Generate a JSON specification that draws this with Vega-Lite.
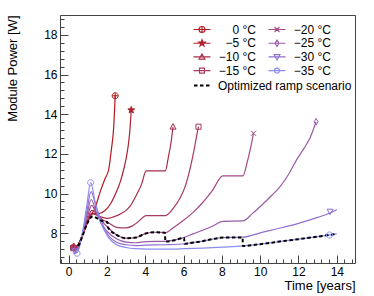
{
"$schema": "https://vega.github.io/schema/vega-lite/v6.json",
"width": 295, "height": 248,
"autosize": "none",
"padding": {"left": 60, "top": 15, "right": 19, "bottom": 33},
"background": "white",
"config": {
  "view": {"stroke": "#444", "strokeWidth": 1},
  "font": "Liberation Sans",
  "axis": {"labelFont": "Liberation Sans", "titleFont": "Liberation Sans", "labelColor": "black", "titleColor": "black", "tickColor": "#444", "domain": false, "grid": false, "titleFontWeight": "normal", "labelFontSize": 12, "titleFontSize": 13},
  "legend": {"labelFont": "Liberation Sans", "labelFontSize": 12, "labelColor": "black"}
},
"datasets": {
  "curves": [
    {"s":"0 °C","t":0.25,"p":7.3},{"s":"0 °C","t":0.45,"p":7.38},{"s":"0 °C","t":0.7,"p":7.85},{"s":"0 °C","t":0.95,"p":8.45},{"s":"0 °C","t":1.15,"p":8.9},{"s":"0 °C","t":1.35,"p":9.2},{"s":"0 °C","t":1.65,"p":10.1},{"s":"0 °C","t":1.9,"p":10.75},{"s":"0 °C","t":2.09,"p":11.2},{"s":"0 °C","t":2.23,"p":12.2},{"s":"0 °C","t":2.35,"p":13.3},{"s":"0 °C","t":2.43,"p":14.93},
    {"s":"−5 °C","t":0.25,"p":7.3},{"s":"−5 °C","t":0.45,"p":7.38},{"s":"−5 °C","t":0.7,"p":7.85},{"s":"−5 °C","t":0.95,"p":8.45},{"s":"−5 °C","t":1.15,"p":8.9},{"s":"−5 °C","t":1.35,"p":9.0},{"s":"−5 °C","t":1.6,"p":9.0},{"s":"−5 °C","t":1.9,"p":9.15},{"s":"−5 °C","t":2.2,"p":9.5},{"s":"−5 °C","t":2.5,"p":10.1},{"s":"−5 °C","t":2.7,"p":10.6},{"s":"−5 °C","t":2.87,"p":11.2},{"s":"−5 °C","t":3.08,"p":12.2},{"s":"−5 °C","t":3.2,"p":13.2},{"s":"−5 °C","t":3.27,"p":14.21},
    {"s":"−10 °C","t":0.25,"p":7.28},{"s":"−10 °C","t":0.45,"p":7.35},{"s":"−10 °C","t":0.7,"p":7.85},{"s":"−10 °C","t":0.95,"p":8.5},{"s":"−10 °C","t":1.2,"p":9.0},{"s":"−10 °C","t":1.45,"p":8.92},{"s":"−10 °C","t":1.75,"p":8.8},{"s":"−10 °C","t":2.0,"p":8.75},{"s":"−10 °C","t":2.5,"p":8.88},{"s":"−10 °C","t":3.0,"p":9.15},{"s":"−10 °C","t":3.22,"p":9.38},{"s":"−10 °C","t":3.5,"p":9.85},{"s":"−10 °C","t":3.8,"p":10.45},{"s":"−10 °C","t":4.05,"p":11.14},{"s":"−10 °C","t":5.05,"p":11.14},{"s":"−10 °C","t":5.2,"p":11.8},{"s":"−10 °C","t":5.35,"p":12.6},{"s":"−10 °C","t":5.45,"p":13.37},
    {"s":"−15 °C","t":0.25,"p":7.25},{"s":"−15 °C","t":0.45,"p":7.3},{"s":"−15 °C","t":0.7,"p":7.85},{"s":"−15 °C","t":0.95,"p":8.55},{"s":"−15 °C","t":1.2,"p":9.15},{"s":"−15 °C","t":1.45,"p":9.0},{"s":"−15 °C","t":1.75,"p":8.7},{"s":"−15 °C","t":2.04,"p":8.55},{"s":"−15 °C","t":2.5,"p":8.3},{"s":"−15 °C","t":3.0,"p":8.27},{"s":"−15 °C","t":3.3,"p":8.36},{"s":"−15 °C","t":3.6,"p":8.55},{"s":"−15 °C","t":4.05,"p":8.89},{"s":"−15 °C","t":5.05,"p":8.89},{"s":"−15 °C","t":5.5,"p":9.3},{"s":"−15 °C","t":5.83,"p":9.8},{"s":"−15 °C","t":6.1,"p":10.4},{"s":"−15 °C","t":6.35,"p":11.3},{"s":"−15 °C","t":6.55,"p":12.2},{"s":"−15 °C","t":6.7,"p":13.0},{"s":"−15 °C","t":6.78,"p":13.37},
    {"s":"−20 °C","t":0.25,"p":7.22},{"s":"−20 °C","t":0.45,"p":7.25},{"s":"−20 °C","t":0.7,"p":7.85},{"s":"−20 °C","t":0.95,"p":8.7},{"s":"−20 °C","t":1.2,"p":9.4},{"s":"−20 °C","t":1.45,"p":9.0},{"s":"−20 °C","t":1.75,"p":8.6},{"s":"−20 °C","t":2.04,"p":8.3},{"s":"−20 °C","t":2.5,"p":7.92},{"s":"−20 °C","t":3.0,"p":7.75},{"s":"−20 °C","t":3.5,"p":7.78},{"s":"−20 °C","t":4.0,"p":7.98},{"s":"−20 °C","t":4.5,"p":8.05},{"s":"−20 °C","t":5.05,"p":8.03},{"s":"−20 °C","t":5.5,"p":8.3},{"s":"−20 °C","t":6.0,"p":8.65},{"s":"−20 °C","t":6.5,"p":9.05},{"s":"−20 °C","t":7.0,"p":9.55},{"s":"−20 °C","t":7.5,"p":10.15},{"s":"−20 °C","t":8.05,"p":10.89},{"s":"−20 °C","t":9.1,"p":10.89},{"s":"−20 °C","t":9.3,"p":11.5},{"s":"−20 °C","t":9.5,"p":12.3},{"s":"−20 °C","t":9.65,"p":13.04},
    {"s":"−25 °C","t":0.25,"p":7.15},{"s":"−25 °C","t":0.45,"p":7.2},{"s":"−25 °C","t":0.7,"p":7.9},{"s":"−25 °C","t":0.95,"p":8.9},{"s":"−25 °C","t":1.18,"p":9.7},{"s":"−25 °C","t":1.45,"p":9.05},{"s":"−25 °C","t":1.75,"p":8.4},{"s":"−25 °C","t":2.0,"p":8.1},{"s":"−25 °C","t":2.5,"p":7.72},{"s":"−25 °C","t":3.0,"p":7.55},{"s":"−25 °C","t":3.5,"p":7.52},{"s":"−25 °C","t":4.05,"p":7.58},{"s":"−25 °C","t":5.05,"p":7.59},{"s":"−25 °C","t":5.5,"p":7.65},{"s":"−25 °C","t":6.0,"p":7.78},{"s":"−25 °C","t":6.5,"p":7.97},{"s":"−25 °C","t":7.0,"p":8.15},{"s":"−25 °C","t":7.5,"p":8.35},{"s":"−25 °C","t":8.05,"p":8.6},{"s":"−25 °C","t":9.1,"p":8.62},{"s":"−25 °C","t":9.6,"p":9.0},{"s":"−25 °C","t":10.17,"p":9.5},{"s":"−25 °C","t":10.6,"p":9.9},{"s":"−25 °C","t":11.04,"p":10.35},{"s":"−25 °C","t":11.5,"p":11.0},{"s":"−25 °C","t":11.9,"p":11.7},{"s":"−25 °C","t":12.3,"p":12.3},{"s":"−25 °C","t":12.6,"p":12.8},{"s":"−25 °C","t":12.92,"p":13.62},
    {"s":"−30 °C","t":0.25,"p":7.1},{"s":"−30 °C","t":0.45,"p":7.12},{"s":"−30 °C","t":0.7,"p":7.9},{"s":"−30 °C","t":0.95,"p":9.1},{"s":"−30 °C","t":1.17,"p":10.1},{"s":"−30 °C","t":1.45,"p":9.3},{"s":"−30 °C","t":1.75,"p":8.5},{"s":"−30 °C","t":2.0,"p":8.0},{"s":"−30 °C","t":2.5,"p":7.55},{"s":"−30 °C","t":3.0,"p":7.42},{"s":"−30 °C","t":3.5,"p":7.38},{"s":"−30 °C","t":4.05,"p":7.4},{"s":"−30 °C","t":5.05,"p":7.42},{"s":"−30 °C","t":6.05,"p":7.47},{"s":"−30 °C","t":6.5,"p":7.53},{"s":"−30 °C","t":7.0,"p":7.6},{"s":"−30 °C","t":7.5,"p":7.7},{"s":"−30 °C","t":8.05,"p":7.78},{"s":"−30 °C","t":9.1,"p":7.8},{"s":"−30 °C","t":10.0,"p":8.02},{"s":"−30 °C","t":11.0,"p":8.25},{"s":"−30 °C","t":12.0,"p":8.5},{"s":"−30 °C","t":13.0,"p":8.8},{"s":"−30 °C","t":13.65,"p":9.02},{"s":"−30 °C","t":14.0,"p":9.2},
    {"s":"−35 °C","t":0.25,"p":7.0},{"s":"−35 °C","t":0.45,"p":7.02},{"s":"−35 °C","t":0.7,"p":7.9},{"s":"−35 °C","t":0.95,"p":9.4},{"s":"−35 °C","t":1.15,"p":10.55},{"s":"−35 °C","t":1.4,"p":9.5},{"s":"−35 °C","t":1.7,"p":8.5},{"s":"−35 °C","t":2.0,"p":7.9},{"s":"−35 °C","t":2.5,"p":7.42},{"s":"−35 °C","t":3.0,"p":7.28},{"s":"−35 °C","t":3.5,"p":7.22},{"s":"−35 °C","t":4.05,"p":7.2},{"s":"−35 °C","t":5.05,"p":7.2},{"s":"−35 °C","t":6.05,"p":7.22},{"s":"−35 °C","t":7.0,"p":7.25},{"s":"−35 °C","t":8.05,"p":7.3},{"s":"−35 °C","t":9.1,"p":7.36},{"s":"−35 °C","t":10.0,"p":7.45},{"s":"−35 °C","t":11.0,"p":7.58},{"s":"−35 °C","t":12.0,"p":7.7},{"s":"−35 °C","t":13.0,"p":7.83},{"s":"−35 °C","t":14.0,"p":7.97}
  ],
  "ramp": [
    {"name":"Optimized ramp scenario","t":0.25,"p":7.2},{"name":"Optimized ramp scenario","t":0.45,"p":7.28},{"name":"Optimized ramp scenario","t":0.7,"p":7.8},{"name":"Optimized ramp scenario","t":0.95,"p":8.45},{"name":"Optimized ramp scenario","t":1.25,"p":8.85},{"name":"Optimized ramp scenario","t":1.5,"p":8.75},{"name":"Optimized ramp scenario","t":1.75,"p":8.62},{"name":"Optimized ramp scenario","t":2.03,"p":8.56},{"name":"Optimized ramp scenario","t":2.05,"p":8.3},{"name":"Optimized ramp scenario","t":2.5,"p":7.92},{"name":"Optimized ramp scenario","t":3.0,"p":7.75},{"name":"Optimized ramp scenario","t":3.5,"p":7.78},{"name":"Optimized ramp scenario","t":4.0,"p":7.98},{"name":"Optimized ramp scenario","t":4.5,"p":8.05},{"name":"Optimized ramp scenario","t":5.03,"p":8.02},{"name":"Optimized ramp scenario","t":5.05,"p":7.58},{"name":"Optimized ramp scenario","t":5.5,"p":7.64},{"name":"Optimized ramp scenario","t":6.03,"p":7.76},{"name":"Optimized ramp scenario","t":6.05,"p":7.47},{"name":"Optimized ramp scenario","t":6.5,"p":7.53},{"name":"Optimized ramp scenario","t":7.0,"p":7.6},{"name":"Optimized ramp scenario","t":7.5,"p":7.7},{"name":"Optimized ramp scenario","t":8.05,"p":7.78},{"name":"Optimized ramp scenario","t":9.08,"p":7.79},{"name":"Optimized ramp scenario","t":9.1,"p":7.36},{"name":"Optimized ramp scenario","t":10.0,"p":7.45},{"name":"Optimized ramp scenario","t":11.0,"p":7.58},{"name":"Optimized ramp scenario","t":12.0,"p":7.7},{"name":"Optimized ramp scenario","t":13.0,"p":7.83},{"name":"Optimized ramp scenario","t":14.0,"p":7.97}
  ],
  "marks": [
    {"s":"0 °C","t":0.25,"p":7.3},{"s":"0 °C","t":2.43,"p":14.93},
    {"s":"−5 °C","t":0.27,"p":7.32},{"s":"−5 °C","t":3.27,"p":14.21},
    {"s":"−10 °C","t":0.25,"p":7.28},{"s":"−10 °C","t":5.45,"p":13.37},
    {"s":"−15 °C","t":0.25,"p":7.25},{"s":"−15 °C","t":6.78,"p":13.37},
    {"s":"−20 °C","t":0.25,"p":7.22},{"s":"−20 °C","t":9.65,"p":13.04},
    {"s":"−25 °C","t":0.3,"p":7.15},{"s":"−25 °C","t":12.92,"p":13.62},
    {"s":"−30 °C","t":0.35,"p":7.1},{"s":"−30 °C","t":13.65,"p":9.09},
    {"s":"−35 °C","t":0.44,"p":6.99},{"s":"−35 °C","t":1.15,"p":10.55},{"s":"−35 °C","t":13.62,"p":7.91}
  ]
},
"resolve": {"scale": {"stroke": "independent", "fill": "independent", "shape": "independent"}, "axis": {"x": "independent", "y": "independent"}},
"layer": [
  {
    "data": {"name": "curves"},
    "mark": {"type": "line", "strokeWidth": 1.2, "interpolate": "monotone"},
    "encoding": {
      "x": {"field": "t", "type": "quantitative", "scale": {"domain": [-0.45, 14.95], "nice": false, "zero": false},
            "axis": {"orient": "bottom", "values": [0,2,4,6,8,10,12,14], "tickSize": -8, "labelPadding": 11, "labelFlush": false, "title": "Time [years]", "titleAnchor": "end", "titleBaseline": "alphabetic", "titleY": 26}},
      "y": {"field": "p", "type": "quantitative", "scale": {"domain": [6.5, 19], "nice": false, "zero": false},
            "axis": {"orient": "left", "values": [8,10,12,14,16,18], "tickSize": -8, "labelPadding": 11, "labelFlush": false, "title": "Module Power [W]", "titleAnchor": "end", "titleBaseline": "alphabetic", "titleX": -44, "titleY": 0}},
      "stroke": {"field": "s", "type": "nominal", "legend": null,
                 "scale": {"domain": ["0 °C","−5 °C","−10 °C","−15 °C","−20 °C","−25 °C","−30 °C","−35 °C"],
                           "range": ["#b3181c","#ad2030","#a82c48","#a53a66","#a34a86","#9a5aaa","#8f6fd2","#8c8cf0"]}}
    }
  },
  {
    "data": {"name": "ramp"},
    "mark": {"type": "line", "color": "black", "strokeWidth": 2, "interpolate": "monotone"},
    "encoding": {
      "x": {"field": "t", "type": "quantitative", "axis": null},
      "y": {"field": "p", "type": "quantitative", "axis": null},
      "strokeDash": {"field": "name", "type": "nominal", "scale": {"range": [[3.5, 2.5]]},
                     "legend": {"orient": "none", "legendX": 133, "legendY": 61, "title": null, "symbolType": "stroke", "symbolSize": 289, "symbolStrokeWidth": 2, "symbolStrokeColor": "black", "symbolDash": [3.5, 2.5], "labelOffset": 6}}
    }
  },
  {
    "data": {"name": "marks"},
    "mark": {"type": "point", "opacity": 1, "strokeWidth": 1, "size": 36},
    "encoding": {
      "x": {"field": "t", "type": "quantitative",
            "axis": {"orient": "bottom", "values": [-0.4,0.4,0.8,1.2,1.6,2.4,2.8,3.2,3.6,4.4,4.8,5.2,5.6,6.4,6.8,7.2,7.6,8.4,8.8,9.2,9.6,10.4,10.8,11.2,11.6,12.4,12.8,13.2,13.6,14.4,14.8], "tickSize": -4, "labels": false, "title": null}},
      "y": {"field": "p", "type": "quantitative",
            "axis": {"orient": "left", "values": [6.8,7.2,7.6,8.4,8.8,9.2,9.6,10.4,10.8,11.2,11.6,12.4,12.8,13.2,13.6,14.4,14.8,15.2,15.6,16.4,16.8,17.2,17.6,18.4,18.8], "tickSize": -4, "labels": false, "title": null}},
      "stroke": {"field": "s", "type": "nominal", "legend": null,
                 "scale": {"domain": ["0 °C","−5 °C","−10 °C","−15 °C","−20 °C","−25 °C","−30 °C","−35 °C"],
                           "range": ["#b3181c","#ad2030","#a82c48","#a53a66","#a34a86","#9a5aaa","#8f6fd2","#8c8cf0"]}},
      "fill": {"field": "s", "type": "nominal", "legend": null,
               "scale": {"domain": ["0 °C","−5 °C","−10 °C","−15 °C","−20 °C","−25 °C","−30 °C","−35 °C"],
                         "range": ["transparent","#ad2030","transparent","transparent","transparent","transparent","transparent","transparent"]}},
      "shape": {"field": "s", "type": "nominal", "legend": null,
                "scale": {"domain": ["0 °C","−5 °C","−10 °C","−15 °C","−20 °C","−25 °C","−30 °C","−35 °C"],
                          "range": ["M-1,0A1,1,0,1,1,1,0A1,1,0,1,1,-1,0ZM-1,0H1M0,-1V1",
                                    "M0,-1.2L0.28,-0.39L1.14,-0.37L0.46,0.15L0.71,0.97L0,0.48L-0.71,0.97L-0.46,0.15L-1.14,-0.37L-0.28,-0.39Z",
                                    "M0,-1L1,0.8L-1,0.8Z",
                                    "M-0.85,-0.85H0.85V0.85H-0.85Z",
                                    "M-0.85,-0.85L0.85,0.85M-0.85,0.85L0.85,-0.85",
                                    "M0,-1.1L0.65,0L0,1.1L-0.65,0Z",
                                    "M0,1L1,-0.8L-1,-0.8Z",
                                    "M-1,0A1,1,0,1,1,1,0A1,1,0,1,1,-1,0Z"]}}
    }
  },
  {
    "data": {"name": "marks"},
    "mark": {"type": "point", "opacity": 0, "size": 100},
    "encoding": {
      "x": {"field": "t", "type": "quantitative", "axis": null},
      "y": {"field": "p", "type": "quantitative", "axis": null},
      "stroke": {"field": "s", "type": "nominal",
                 "legend": {"orient": "none", "legendX": 136, "legendY": 8.5, "columns": 2, "title": null, "symbolSize": 100, "symbolStrokeWidth": 1.1, "symbolOpacity": 1, "labelAlign": "right", "labelOffset": 48, "rowPadding": 1.7, "columnPadding": 10},
                 "scale": {"domain": ["0 °C","−5 °C","−10 °C","−15 °C","−20 °C","−25 °C","−30 °C","−35 °C"],
                           "range": ["#b3181c","#ad2030","#a82c48","#a53a66","#a34a86","#9a5aaa","#8f6fd2","#8c8cf0"]}},
      "fill": {"field": "s", "type": "nominal",
               "legend": {"orient": "none", "legendX": 136, "legendY": 8.5, "columns": 2, "title": null, "symbolSize": 100, "symbolStrokeWidth": 1.1, "symbolOpacity": 1, "labelAlign": "right", "labelOffset": 48, "rowPadding": 1.7, "columnPadding": 10},
               "scale": {"domain": ["0 °C","−5 °C","−10 °C","−15 °C","−20 °C","−25 °C","−30 °C","−35 °C"],
                         "range": ["transparent","#ad2030","transparent","transparent","transparent","transparent","transparent","transparent"]}},
      "shape": {"field": "s", "type": "nominal",
                "legend": {"orient": "none", "legendX": 136, "legendY": 8.5, "columns": 2, "title": null, "symbolSize": 100, "symbolStrokeWidth": 1.1, "symbolOpacity": 1, "labelAlign": "right", "labelOffset": 48, "rowPadding": 1.7, "columnPadding": 10},
                "scale": {"domain": ["0 °C","−5 °C","−10 °C","−15 °C","−20 °C","−25 °C","−30 °C","−35 °C"],
                          "range": ["M-1.7,0H1.7M-0.6,0A0.6,0.6,0,1,1,0.6,0A0.6,0.6,0,1,1,-0.6,0ZM0,-0.6V0.6",
                                    "M-1.7,0H1.7M0,-0.7L0.17,-0.23L0.67,-0.22L0.27,0.09L0.41,0.57L0,0.28L-0.41,0.57L-0.27,0.09L-0.67,-0.22L-0.17,-0.23Z",
                                    "M-1.7,0H1.7M0,-0.6L0.6,0.45L-0.6,0.45Z",
                                    "M-1.7,0H1.7M-0.5,-0.5H0.5V0.5H-0.5Z",
                                    "M-1.7,0H1.7M-0.5,-0.5L0.5,0.5M-0.5,0.5L0.5,-0.5",
                                    "M-1.7,0H1.7M0,-0.65L0.4,0L0,0.65L-0.4,0Z",
                                    "M-1.7,0H1.7M0,0.6L0.6,-0.45L-0.6,-0.45Z",
                                    "M-1.7,0H1.7M-0.5,0A0.5,0.5,0,1,1,0.5,0A0.5,0.5,0,1,1,-0.5,0Z"]}}
    }
  }
]
}
